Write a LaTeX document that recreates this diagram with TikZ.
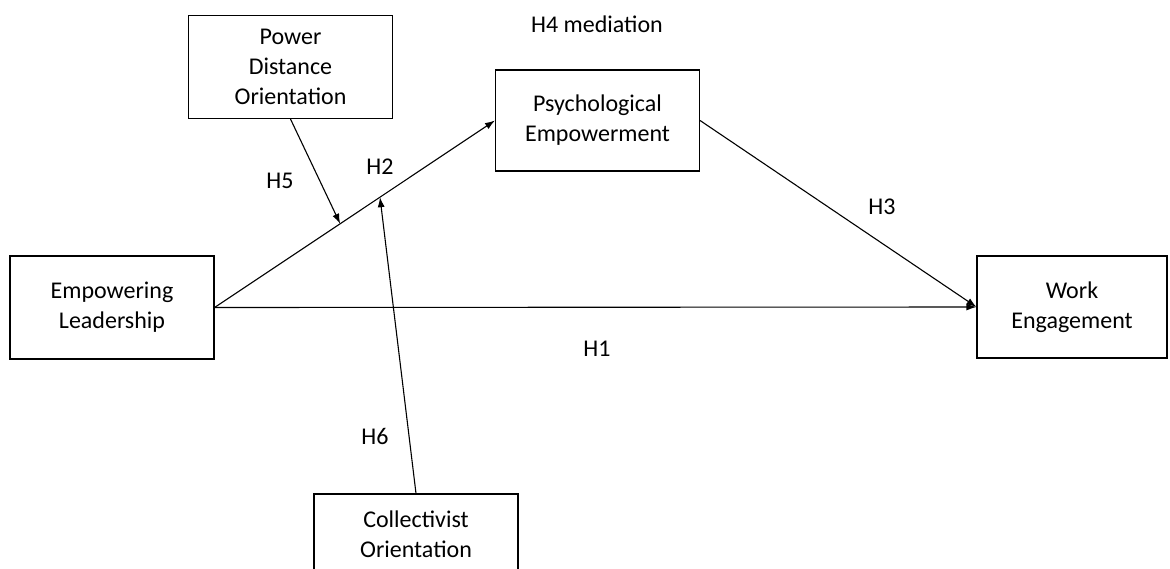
\documentclass[tikz,border=0pt]{standalone}
\usepackage{fontspec}
\setmainfont{Carlito}
\usetikzlibrary{arrows.meta, calc, positioning}

\tikzset{
  varbox/.style={draw, line width=1.1pt, align=center, inner sep=0pt,
    minimum width=204pt, minimum height=103pt},
  hyp/.style={inner sep=0pt}
}

\begin{document}
\begin{tikzpicture}[x=1pt, y=-1pt, >={Latex[length=10pt, width=7pt]}, line width=1.1pt,
  font=\fontsize{24pt}{30pt}\selectfont]
\useasboundingbox (0,0) rectangle (1170,568);
\clip (0,0) rectangle (1170,568);

% variables
\node[varbox] (pdo) at (290.5,67) {Power\\Distance\\Orientation};
\node[varbox, minimum height=101pt] (psy) at (597.5,120.5) {Psychological\\Empowerment};
\node[varbox] (emp) at (112,307.5) {Empowering\\Leadership};
\node[varbox, minimum width=190pt, minimum height=102pt] (work) at (1072,307) {Work\\Engagement};
\node[varbox, minimum height=80pt] (coll) at (416,534) {Collectivist\\Orientation};

% paths
\draw[->] (emp.east) -- (psy.west);
\draw[->] (psy.east) -- (work.west);
\draw[->] (emp.east) -- (work.west);

\coordinate (mod1) at ($(emp.east)!0.448!(psy.west)$);
\coordinate (mod2) at ($(emp.east)!0.59!(psy.west)$);
\draw[->] (pdo.south) -- (mod1);
\draw[->] (coll.north) -- (mod2);

% hypotheses
\node[hyp] (h4) at (597,24) {H4 mediation};
\node[hyp] (h5) at (280,181) {H5};
\node[hyp] (h2) at (380,167) {H2};
\node[hyp] (h3) at (882,207) {H3};
\node[hyp] (h1) at (597,349) {H1};
\node[hyp] (h6) at (375,436) {H6};
\end{tikzpicture}
\end{document}
